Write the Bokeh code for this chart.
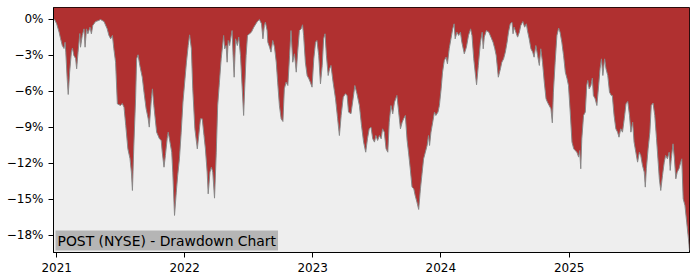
import pandas as pd
from bokeh.plotting import figure
from bokeh.models import Range1d, FixedTicker, CustomJSTickFormatter, Label
from bokeh.embed import file_html
from bokeh.resources import INLINE

TITLE = "POST (NYSE) - Drawdown Chart"
START = "2021-01-01"

# days after 2021-01-01
day_offsets = [
    -9, -6, 0, 7, 11, 16, 21, 24, 26, 30, 33, 37, 42, 45, 49, 54, 57, 61, 66, 68,
    73, 78, 81, 85, 89, 95, 99, 103, 111, 120, 125, 135, 144, 149, 154, 159, 163, 168, 173, 182,
    187, 192, 197, 203, 209, 213, 216, 220, 225, 228, 232, 237, 244, 249, 255, 261, 264, 270, 273, 277,
    285, 293, 298, 301, 306, 310, 315, 318, 323, 328, 331, 336, 341, 345, 350, 355, 360, 365, 370, 375,
    379, 384, 388, 394, 401, 405, 410, 415, 420, 424, 429, 432, 437, 441, 445, 450, 455, 459, 464, 469,
    474, 476, 479, 483, 486, 489, 493, 496, 500, 503, 506, 510, 515, 519, 524, 529, 533, 536, 540, 544,
    550, 555, 562, 572, 578, 584, 588, 592, 595, 600, 602, 607, 611, 616, 621, 626, 630, 635, 640, 645,
    649, 654, 659, 664, 668, 673, 678, 683, 687, 692, 697, 701, 704, 709, 714, 719, 723, 728, 733, 738,
    742, 747, 752, 757, 761, 765, 769, 774, 778, 782, 788, 795, 801, 806, 811, 817, 823, 828, 832, 839,
    845, 850, 856, 863, 869, 875, 881, 886, 891, 896, 901, 906, 910, 915, 920, 925, 929, 934, 939, 944,
    948, 953, 958, 963, 970, 975, 980, 985, 989, 994, 999, 1003, 1008, 1013, 1018, 1022, 1027, 1032, 1037, 1041,
    1046, 1051, 1056, 1060, 1063, 1067, 1072, 1077, 1081, 1087, 1091, 1096, 1100, 1105, 1110, 1114, 1119, 1124, 1129, 1133,
    1136, 1141, 1146, 1151, 1155, 1162, 1168, 1174, 1180, 1184, 1189, 1193, 1197, 1202, 1208, 1213, 1216, 1219, 1225, 1232,
    1238, 1244, 1249, 1253, 1259, 1265, 1269, 1274, 1279, 1284, 1288, 1293, 1298, 1301, 1304, 1309, 1314, 1319, 1323, 1329,
    1334, 1339, 1342, 1347, 1352, 1357, 1361, 1366, 1371, 1376, 1380, 1385, 1390, 1395, 1399, 1404, 1409, 1413, 1416, 1421,
    1426, 1431, 1435, 1440, 1445, 1450, 1455, 1459, 1464, 1469, 1474, 1478, 1483, 1488, 1491, 1494, 1497, 1502, 1507, 1511,
    1514, 1518, 1523, 1527, 1530, 1535, 1540, 1545, 1549, 1553, 1557, 1562, 1566, 1571, 1576, 1581, 1584, 1589, 1594, 1599,
    1603, 1608, 1613, 1618, 1623, 1628, 1633, 1637, 1642, 1646, 1651, 1656, 1661, 1665, 1670, 1675, 1678, 1681, 1686, 1691,
    1695, 1700, 1705, 1710, 1714, 1718, 1722, 1727, 1732, 1736, 1741, 1746, 1749, 1752, 1757, 1761, 1765, 1769, 1774, 1779,
    1782, 1786, 1791, 1796, 1801, 1804,
]

# drawdown in percent
drawdown = [
    0.00, 0.00, -0.36, -1.06, -1.58, -2.17, -2.42, -1.89, -2.72, -4.92, -6.25, -4.39, -2.72, -2.39, -3.00, -3.25, -4.11, -2.72, -1.17, -2.31,
    -1.33, -0.78, -2.31, -0.78, -1.19, -0.64, -1.19, -0.50, -0.17, -0.08, 0.00, -0.17, -0.78, -1.33, -1.61, -1.33, -2.44, -3.56, -7.03, -7.17,
    -7.00, -7.31, -8.83, -10.78, -11.58, -12.72, -14.25, -10.50, -6.61, -3.28, -2.94, -3.83, -4.81, -6.06, -7.44, -8.28, -8.97, -6.61, -5.78, -7.17,
    -9.39, -9.94, -10.08, -11.06, -12.31, -11.33, -9.94, -9.39, -10.22, -11.06, -12.72, -16.33, -14.39, -13.00, -11.61, -9.39, -6.89, -5.22, -3.56, -2.17,
    -1.28, -2.44, -5.78, -9.11, -10.78, -9.67, -8.28, -8.28, -9.67, -10.78, -12.72, -14.53, -12.72, -12.31, -12.72, -14.89, -11.06, -7.17, -5.22, -3.28,
    -1.89, -1.33, -2.44, -2.17, -3.56, -1.75, -2.17, -1.61, -0.92, -3.00, -4.81, -1.61, -2.17, -1.47, -3.00, -5.78, -8.00, -5.78, -3.00, -1.33,
    -1.19, -1.06, -0.64, -0.17, 0.00, -0.36, -1.61, -0.50, -0.22, -0.92, -1.89, -2.31, -2.72, -1.75, -2.31, -3.56, -5.22, -7.17, -8.28, -8.50,
    -5.78, -5.22, -5.50, -3.00, -0.92, -3.56, -2.86, -4.39, -2.72, -0.92, -0.78, -0.44, -1.33, -3.56, -4.67, -4.94, -5.22, -5.64, -3.28, -1.89,
    -1.75, -3.00, -5.36, -3.83, -1.61, -1.19, -3.00, -4.67, -4.11, -3.83, -5.22, -6.61, -8.28, -9.67, -8.00, -6.47, -6.19, -6.33, -7.72, -7.86,
    -6.61, -5.50, -6.19, -7.17, -8.83, -10.22, -11.06, -9.94, -9.11, -8.97, -9.94, -10.22, -9.67, -10.08, -9.67, -9.94, -9.11, -9.39, -10.78, -11.06,
    -8.56, -7.17, -7.86, -6.89, -6.33, -7.72, -9.11, -8.56, -8.28, -8.00, -10.08, -11.06, -12.44, -13.97, -14.11, -14.67, -15.22, -15.83, -14.11, -13.00,
    -11.61, -11.06, -10.50, -9.67, -10.50, -9.39, -8.56, -7.72, -8.00, -7.72, -7.17, -5.78, -4.39, -3.42, -3.14, -3.69, -2.44, -1.61, -0.78, -0.36,
    -1.61, -1.06, -1.33, -1.06, -1.89, -2.86, -2.31, -1.33, -0.78, -1.33, -3.28, -4.39, -5.44, -3.83, -1.89, -1.06, -2.44, -1.47, -0.92, -1.06,
    -1.47, -1.89, -2.44, -3.00, -4.81, -4.11, -3.56, -3.28, -2.72, -1.89, -1.06, -0.36, -0.22, -1.19, -0.64, -1.06, -1.47, -1.06, -0.50, -0.17,
    -0.64, -0.36, -0.92, -1.61, -2.44, -2.72, -3.14, -2.17, -3.00, -3.83, -2.44, -3.56, -5.22, -6.61, -6.89, -7.17, -7.44, -8.61, -6.06, -3.56,
    -1.33, -0.72, -1.06, -1.89, -3.00, -4.39, -4.94, -5.50, -7.72, -10.22, -10.78, -10.92, -11.06, -11.47, -10.92, -12.44, -9.94, -8.00, -7.72, -5.50,
    -5.08, -5.78, -5.50, -4.89, -6.33, -6.61, -7.17, -5.50, -4.11, -3.28, -4.67, -3.28, -4.11, -4.67, -6.06, -6.33, -6.33, -8.00, -9.11, -9.39,
    -9.81, -9.11, -9.39, -8.28, -7.03, -6.83, -8.00, -9.39, -8.56, -10.22, -11.06, -11.89, -11.06, -11.33, -12.17, -12.72, -13.97, -12.44, -10.78, -9.39,
    -7.17, -6.97, -8.00, -9.94, -11.61, -13.28, -14.25, -13.00, -11.89, -11.33, -11.61, -11.06, -12.58, -11.61, -10.36, -11.61, -13.28, -12.72, -12.44, -11.89,
    -11.61, -14.94, -15.50, -16.89, -18.28, -19.25,
]

y_ticks = [0, -3, -6, -9, -12, -15, -18]
x_tick_years = [2021, 2022, 2023, 2024, 2025]

assert len(day_offsets) == len(drawdown), (len(day_offsets), len(drawdown))

RED = "#b03030"
BG = "#eeeeee"
Y_MIN, Y_MAX = -19.42, 1.0

dates = pd.Timestamp(START) + pd.to_timedelta(day_offsets, unit="D")

p = figure(
    width=700, height=280,
    x_axis_type="datetime",
    output_backend="svg", toolbar_location=None,
    min_border_left=53, min_border_right=11, min_border_top=7, min_border_bottom=28,
    background_fill_color=BG, border_fill_color="white",
    x_range=Range1d(dates[0], dates[-1]),
    y_range=Range1d(Y_MIN, Y_MAX),
)

p.varea(x=dates, y1=drawdown, y2=Y_MAX, fill_color=RED)
p.line(x=dates, y=drawdown, line_color="#888888", line_width=1)

p.grid.visible = False
p.outline_line_color = "black"
p.outline_line_width = 1

p.yaxis.ticker = FixedTicker(ticks=y_ticks)
p.yaxis.formatter = CustomJSTickFormatter(
    code='return (tick == 0 ? "0" : "\\u2212" + Math.abs(tick)) + "%";')
x_ticks = [pd.Timestamp(f"{y}-01-01").value / 1e6 for y in x_tick_years]
p.xaxis.ticker = FixedTicker(ticks=x_ticks)
p.xaxis.formatter = CustomJSTickFormatter(
    code='return String(new Date(tick).getUTCFullYear());')

for ax in (p.xaxis, p.yaxis):
    ax.major_label_text_font = "DejaVu Sans"
    ax.major_label_text_font_size = "12px"
    ax.major_label_text_color = "black"
    ax.axis_line_color = "black"
    ax.major_tick_line_color = "black"
    ax.minor_tick_line_color = None
    ax.major_tick_out = 5
    ax.major_tick_in = 0
    ax.major_label_standoff = 5

label = Label(
    x=dates[0], y=Y_MIN, text=TITLE,
    text_font="DejaVu Sans", text_font_size="13.9px", text_color="black",
    text_align="left", text_baseline="bottom",
    background_fill_color="#b5b5b5",
    padding=2, x_offset=2, y_offset=2,
)
p.add_layout(label)

open("out.html", "w").write(file_html(p, INLINE))
